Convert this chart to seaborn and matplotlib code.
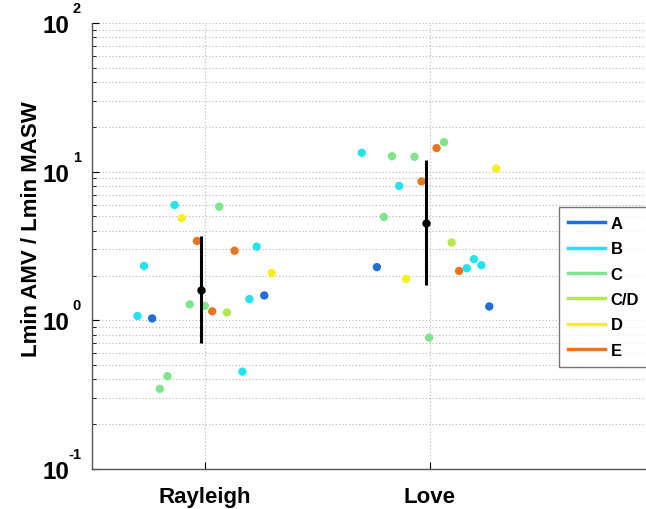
import numpy as np
import pandas as pd
import matplotlib
matplotlib.use('Agg')
import matplotlib.pyplot as plt
import matplotlib.transforms as mtransforms
import seaborn as sns
from matplotlib.lines import Line2D
from matplotlib.ticker import FixedLocator, FixedFormatter, LogLocator, NullFormatter

# categories and groups
categories = ['Rayleigh', 'Love']
groups = ['A', 'B', 'C', 'C/D', 'D', 'E']
colors = ['#1f6fd6', '#22e3f0', '#7de68a', '#b2e84a', '#f5f01e', '#e8761f']

# y ticks (decades) and their exponents
ytick_values = [0.1, 1, 10, 100]
ytick_exponents = ['-1', '0', '1', '2']

# Rayleigh points (group, jitter offset, value)
ray_group = ['B', 'C', 'D', 'E', 'E', 'B', 'B', 'D', 'A', 'B', 'C', 'C', 'E', 'C/D', 'B', 'A', 'B', 'C', 'C']
ray_jitter = [-0.133, 0.065, -0.102, -0.034, 0.133, 0.231, -0.269, 0.298, 0.265, 0.199,
              -0.066, 0.001, 0.034, 0.099, -0.298, -0.233, 0.168, -0.165, -0.199]
ray_value = [5.97, 5.82, 4.87, 3.42, 2.94, 3.13, 2.32, 2.08, 1.47, 1.39,
             1.28, 1.25, 1.15, 1.13, 1.07, 1.03, 0.452, 0.421, 0.346]

# Love points
love_group = ['C', 'E', 'B', 'C', 'C', 'D', 'E', 'B', 'C', 'C/D', 'B', 'B', 'A', 'B', 'E', 'D', 'A', 'C']
love_jitter = [0.063, 0.030, -0.302, -0.168, -0.068, 0.295, -0.037, -0.136, -0.204, 0.097,
               0.196, 0.229, -0.235, 0.164, 0.130, -0.105, 0.264, -0.003]
love_value = [15.8, 14.4, 13.4, 12.7, 12.6, 10.5, 8.6, 8.02, 4.96, 3.34,
              2.58, 2.35, 2.28, 2.24, 2.15, 1.90, 1.24, 0.765]

# mean and spread per category
mean_value = [1.60, 4.54]
low_value = [0.70, 1.74]
high_value = [3.68, 11.9]

plt.rcParams['font.family'] = ['Liberation Sans', 'DejaVu Sans']
plt.rcParams['font.weight'] = 'bold'

df = pd.DataFrame({
    'x': np.concatenate([1 + np.array(ray_jitter), 2 + np.array(love_jitter)]),
    'value': ray_value + love_value,
    'group': ray_group + love_group,
})

fig = plt.figure(figsize=(6.46, 5.10), dpi=100)
ax = fig.add_axes([92 / 646, 40 / 510, 1 - 92 / 646, 446 / 510])

sns.scatterplot(data=df, x='x', y='value', hue='group', hue_order=groups,
                palette=colors, s=36, linewidth=0, legend=False, ax=ax, zorder=3)

xm = np.arange(1, len(categories) + 1) - 0.018
mean_arr = np.array(mean_value)
yerr = [mean_arr - np.array(low_value), np.array(high_value) - mean_arr]
ax.errorbar(xm, mean_arr, yerr=yerr, fmt='o', color='black', ms=5,
            elinewidth=2.2, capsize=0, zorder=4)

ax.set_yscale('log')
ax.set_ylim(0.1, 100)
ax.set_xlim(0.5, 2.96)

ax.xaxis.set_major_locator(FixedLocator([1, 2]))
ax.xaxis.set_major_formatter(FixedFormatter(categories))
ax.yaxis.set_major_locator(FixedLocator(ytick_values))
ax.yaxis.set_major_formatter(FixedFormatter(['10'] * len(ytick_values)))
ax.yaxis.set_minor_locator(LogLocator(base=10, subs=np.arange(2, 10)))
ax.yaxis.set_minor_formatter(NullFormatter())

ax.tick_params(axis='y', which='major', labelsize=17.5, direction='in', length=5, pad=16.5)
ax.tick_params(axis='y', which='minor', direction='in', length=3)
ax.tick_params(axis='x', which='major', labelsize=16, direction='in', length=5, pad=12)

# exponents drawn as separate superscripts, raised above the "10"
trans = mtransforms.blended_transform_factory(ax.transAxes, ax.transData)
trans = trans + mtransforms.ScaledTranslation(-11 / 100, 15 / 100, fig.dpi_scale_trans)
for yv, ex in zip(ytick_values, ytick_exponents):
    ax.text(0, yv, ex, transform=trans, ha='right', va='center',
            fontsize=10.5, fontweight='bold', clip_on=False)

ax.grid(True, which='both', axis='y', linestyle=(0, (1, 2)), color='#b8b8b8', linewidth=0.8)
ax.grid(True, which='major', axis='x', linestyle=(0, (1, 2)), color='#b8b8b8', linewidth=0.8)
ax.set_axisbelow(True)

for side in ['top', 'right']:
    ax.spines[side].set_visible(False)
for side in ['left', 'bottom']:
    ax.spines[side].set_color('#555555')
    ax.spines[side].set_linewidth(1.0)

ax.set_xlabel('')
ax.set_ylabel('Lmin AMV / Lmin MASW', fontsize=16, fontweight='bold')
ax.yaxis.set_label_coords(-0.09, 0.54)

handles = [Line2D([0], [0], color=c, lw=2.5) for c in colors]
leg = ax.legend(handles, groups, loc='upper left', bbox_to_anchor=(559 / 646, (510 - 208) / 510),
                bbox_transform=fig.transFigure, fontsize=12, frameon=True, fancybox=False,
                handlelength=2.2, handletextpad=0.35, labelspacing=0.62, borderpad=0.55,
                borderaxespad=0)
leg.get_frame().set_edgecolor('#555555')
leg.get_frame().set_linewidth(1.0)
for t in leg.get_texts():
    t.set_fontweight('bold')

fig.savefig('out.png', dpi=100)
